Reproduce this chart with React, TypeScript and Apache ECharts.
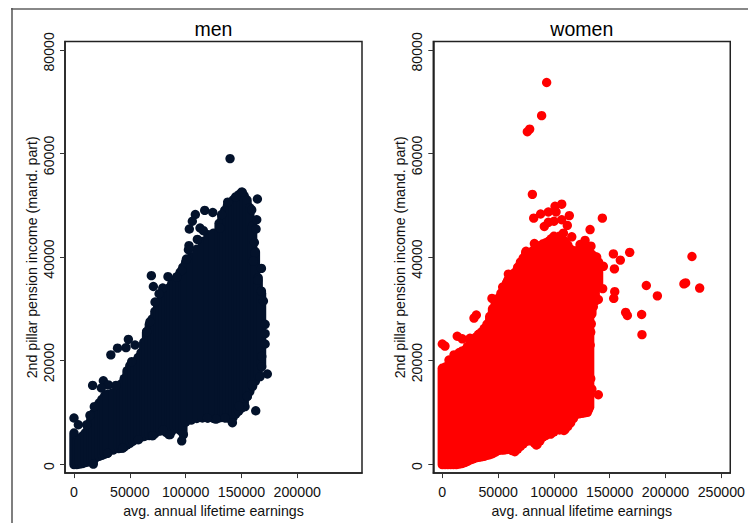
import React, { useEffect, useRef } from "react";
import * as echarts from "echarts";

const panelTitles = ["men", "women"];
const xAxisTitle = "avg. annual lifetime earnings";
const yAxisTitle = "2nd pillar pension income (mand. part)";
const menColor = "#03122b";
const womenColor = "#ff0000";
const xTicksMen = [0, 50000, 100000, 150000, 200000];
const xTicksWomen = [0, 50000, 100000, 150000, 200000, 250000];
const yTicks = [0, 20000, 40000, 60000, 80000];

// Dense cloud, read column by column as [earnings, lowest, highest]
const menCloud = [
  [0, -100, 6000], [2500, -100, 4500], [5000, 0, 4800], [7500, 100, 5400], [10000, 300, 6000], [12500, 400, 7000],
  [15000, 600, 8500], [17500, 600, 9800], [20000, 1300, 10500], [22500, 1500, 11800],
  [25000, 1700, 12500], [27500, 1900, 13200], [30000, 2100, 13500], [35000, 2700, 13800], [40000, 3000, 14500],
  [42500, 3100, 15500], [45000, 3300, 16500], [47500, 3700, 18000],
  [50000, 4000, 19000], [52500, 4400, 19300], [55000, 4700, 19800], [57500, 4900, 20600], [60000, 5200, 21500],
  [62500, 5300, 23500], [65000, 5500, 25500], [67500, 5500, 27000], [70000, 5500, 28000], [72500, 5900, 29500],
  [75000, 6300, 31000], [77500, 6400, 31500], [80000, 6600, 32000], [82500, 6100, 33000], [85000, 5700, 34000],
  [87500, 6300, 34800], [90000, 7000, 35500], [92500, 7200, 36200], [95000, 6500, 37000], [97500, 6000, 38000],
  [100000, 8100, 39000], [105000, 8500, 40000], [110000, 8800, 41500], [115000, 8900, 43000], [120000, 8900, 44300],
  [125000, 8800, 44600], [130000, 8900, 46500], [132500, 9000, 47800], [135000, 9000, 49000], [137500, 8900, 50000],
  [140000, 8800, 50500], [142500, 9000, 51000], [145000, 9700, 51500], [147500, 10200, 52000],
  [150000, 10800, 52500], [152500, 11800, 51800], [155000, 13000, 51000], [157500, 14000, 49500], [160000, 15000, 46000],
  [162500, 16000, 41000], [165000, 17000, 36000], [168000, 19000, 33000],
];
const menPoints = [
  [139800, 59000], [150800, 52500], [164300, 51200], [144900, 51600], [137700, 50600], [117100, 49000], [124300, 48600],
  [108700, 48200], [132300, 48200], [159200, 49100], [163700, 47200], [163100, 45400], [161600, 42800], [162200, 40800],
  [160700, 39200], [167900, 37800], [164600, 35500], [167900, 33400], [169700, 31500], [106000, 46900], [103300, 45400],
  [112900, 45600], [115900, 45100], [130800, 45600], [110500, 43400], [103000, 42200], [102500, 41400], [100700, 39600],
  [96500, 37400], [92000, 36100], [84200, 36200], [69300, 36400], [71100, 34300], [79500, 34000], [76200, 32900],
  [72600, 31300], [68100, 27500], [65100, 25600], [48700, 24100], [54700, 23000], [46600, 22500], [39000, 22400],
  [33000, 21100], [51700, 19800], [26300, 16100], [16700, 15200], [30800, 15300], [37600, 15200], [24500, 14700],
  [18200, 11100], [14300, 9400], [11300, 7600], [0, 8900], [3900, 7600], [171200, 27000], [171200, 25200],
  [171200, 23200], [168200, 20800], [168200, 18800], [173200, 17400], [162800, 10300], [153200, 11100], [141900, 8000],
  [135300, 8900], [127200, 8700], [119500, 8900], [155300, 13100], [159200, 15300], [166700, 16900], [148000, 11200],
  [98000, 5700], [96500, 4500], [86000, 5700], [80000, 6600], [70500, 5500], [57600, 4700], [43600, 3100], [30200, 2100], [17300, 0],
];

const womenCloud = [
  [0, -100, 18500], [2500, -100, 18700], [5000, -100, 19000], [7500, -100, 19500], [10000, -100, 20000], [12500, -100, 20800],
  [15000, 0, 21500], [17500, 100, 21800], [20000, 300, 22000], [22500, 500, 22700],
  [25000, 800, 23500], [27500, 1000, 24000], [30000, 1200, 24500], [32500, 1300, 25000], [35000, 1400, 25500],
  [37500, 1500, 26200], [40000, 1700, 27000], [42500, 1800, 28500], [45000, 2000, 30000], [47500, 2300, 31000],
  [50000, 2600, 32000], [52500, 2700, 33000], [55000, 2700, 34000], [57500, 2800, 35000], [60000, 2900, 36000],
  [62500, 2600, 36500], [65000, 2400, 37000], [67500, 2900, 38000], [70000, 3400, 39000], [72500, 3900, 39800],
  [75000, 4400, 40500], [77500, 4500, 40800], [80000, 4500, 41000], [82500, 4100, 41500], [85000, 3800, 42000],
  [87500, 4500, 42200], [90000, 5200, 42500], [92500, 5500, 42700], [95000, 5900, 43000], [97500, 6000, 43500],
  [100000, 6200, 44000], [105000, 6600, 44000], [110000, 6700, 43000], [112500, 7300, 42300], [115000, 8000, 41500],
  [117500, 8800, 41200], [120000, 9600, 41000], [122500, 9700, 41500],
  [125000, 9800, 42000], [127500, 9900, 41800], [130000, 10000, 41500], [132000, 11000, 40800], [134000, 29000, 40500], [137000, 31500, 40000], [140000, 34500, 39000],
];
const womenPoints = [
  [93500, 73700], [89000, 67300], [78300, 64700], [76200, 64200], [80700, 52100], [107000, 50200], [101000, 49800],
  [95000, 48700], [88100, 48300], [81900, 47500], [101900, 48700], [113800, 48000], [107000, 47200], [100100, 46900],
  [95000, 46700], [91400, 45900], [112000, 46100], [143400, 47500], [132400, 45300], [116000, 43900], [108500, 44600],
  [127900, 43200], [123400, 42400], [133200, 42100], [138300, 40000], [144300, 38200], [153300, 40600], [167900, 40900],
  [159500, 39400], [154200, 37700], [182800, 34500], [154500, 33300], [153600, 32000], [143700, 33900], [139800, 31800],
  [135300, 30400], [133500, 27100], [192700, 32500], [216500, 34800], [218000, 35000], [230600, 34000], [223700, 40100],
  [164300, 29300], [165800, 28700], [178600, 28900], [178900, 25000], [139800, 13400], [114400, 7900], [109000, 6500],
  [97100, 5800], [84200, 3700], [0, 23200], [2400, 22800], [6000, 20100], [13400, 24700], [17900, 24200], [24800, 24300],
  [10500, 21100], [20000, 21300], [28400, 28200], [30500, 28800], [32900, 25100], [40300, 26500], [44800, 28900],
  [44500, 32000], [54100, 34200], [58600, 35500], [59200, 36700], [69000, 38200], [75000, 41100], [82500, 42600],
  [74700, 40800], [133000, 25500], [132500, 23000], [131500, 20000], [133000, 16500], [134000, 14500], [131000, 10500],
];

const X_MIN = -8060;
const X_MAX = 258000;
const Y_MIN = -1736;
const Y_MAX = 81620;
const DOT = 9.4;
const FONT = "'Liberation Sans', Arial, sans-serif";

function cloudSeries(index: number, color: string, data: number[][]) {
  return {
    type: "custom",
    xAxisIndex: index,
    yAxisIndex: index,
    encode: { x: 0, y: [1, 2] },
    data,
    clip: false,
    renderItem: (_p: unknown, api: any) => {
      const a = api.coord([api.value(0), api.value(1)]);
      const b = api.coord([api.value(0), api.value(2)]);
      return {
        type: "line",
        shape: { x1: a[0], y1: a[1], x2: b[0], y2: b[1] },
        style: { stroke: color, lineWidth: DOT, lineCap: "round", fill: null },
      };
    },
  };
}

function pointSeries(index: number, color: string, data: number[][]) {
  return {
    type: "scatter",
    xAxisIndex: index,
    yAxisIndex: index,
    data,
    symbol: "circle",
    symbolSize: DOT,
    clip: false,
    itemStyle: { color, opacity: 1 },
  };
}

function xAxis(index: number, ticks: number[]) {
  return {
    type: "value",
    gridIndex: index,
    min: X_MIN,
    max: X_MAX,
    name: xAxisTitle,
    nameLocation: "middle",
    nameGap: 27,
    nameTextStyle: { fontFamily: FONT, fontSize: 14.2, color: "#111" },
    axisLine: { show: true, onZero: false, lineStyle: { color: "#222", width: 1.5 } },
    axisTick: { show: true, length: 5, customValues: ticks, lineStyle: { color: "#333", width: 1 } },
    axisLabel: { show: true, customValues: ticks, margin: 12, fontFamily: FONT, fontSize: 14.2, color: "#111", formatter: (v: number) => String(v) },
    splitLine: { show: false },
  };
}

function yAxis(index: number) {
  return {
    type: "value",
    gridIndex: index,
    min: Y_MIN,
    max: Y_MAX,
    name: yAxisTitle,
    nameLocation: "middle",
    nameGap: 26,
    nameTextStyle: { fontFamily: FONT, fontSize: 14.2, color: "#111" },
    axisLine: { show: true, onZero: false, lineStyle: { color: "#222", width: 1.5 } },
    axisTick: { show: true, length: 5, customValues: yTicks, lineStyle: { color: "#333", width: 1 } },
    axisLabel: { show: true, customValues: yTicks, rotate: 90, margin: 9, padding: [0, 4, 0, 0], fontFamily: FONT, fontSize: 14.2, color: "#111", formatter: (v: number) => String(v) },
    splitLine: { show: false },
  };
}

export default function App() {
  const ref = useRef<HTMLDivElement>(null);
  useEffect(() => {
    const chart = echarts.init(ref.current!, undefined, { renderer: "svg" });
    chart.setOption({
      animation: false,
      backgroundColor: "#ffffff",
      title: [
        { text: panelTitles[0], left: 213.5, top: 19, padding: 0, textAlign: "center", textStyle: { fontFamily: FONT, fontSize: 19.5, fontWeight: "normal", color: "#000" } },
        { text: panelTitles[1], left: 581.8, top: 19, padding: 0, textAlign: "center", textStyle: { fontFamily: FONT, fontSize: 19.5, fontWeight: "normal", color: "#000" } },
      ],
      grid: [
        { left: 65, top: 41.5, width: 297, height: 432, show: true, borderColor: "#222", borderWidth: 1.5, backgroundColor: "#fff" },
        { left: 433.3, top: 41.5, width: 297, height: 432, show: true, borderColor: "#222", borderWidth: 1.5, backgroundColor: "#fff" },
      ],
      xAxis: [xAxis(0, xTicksMen), xAxis(1, xTicksWomen)],
      yAxis: [yAxis(0), yAxis(1)],
      series: [
        cloudSeries(0, menColor, menCloud),
        pointSeries(0, menColor, menPoints),
        cloudSeries(1, womenColor, womenCloud),
        pointSeries(1, womenColor, womenPoints),
      ],
      graphic: [
        { type: "line", silent: true, shape: { x1: 11, y1: 9, x2: 748, y2: 9 }, style: { stroke: "#888", lineWidth: 2 } },
        { type: "line", silent: true, shape: { x1: 12, y1: 8, x2: 12, y2: 523 }, style: { stroke: "#555", lineWidth: 1.5 } },
      ],
    });
    return () => chart.dispose();
  }, []);
  return <div ref={ref} style={{ position: "absolute", left: 0, top: 0, width: 748, height: 523 }} />;
}
